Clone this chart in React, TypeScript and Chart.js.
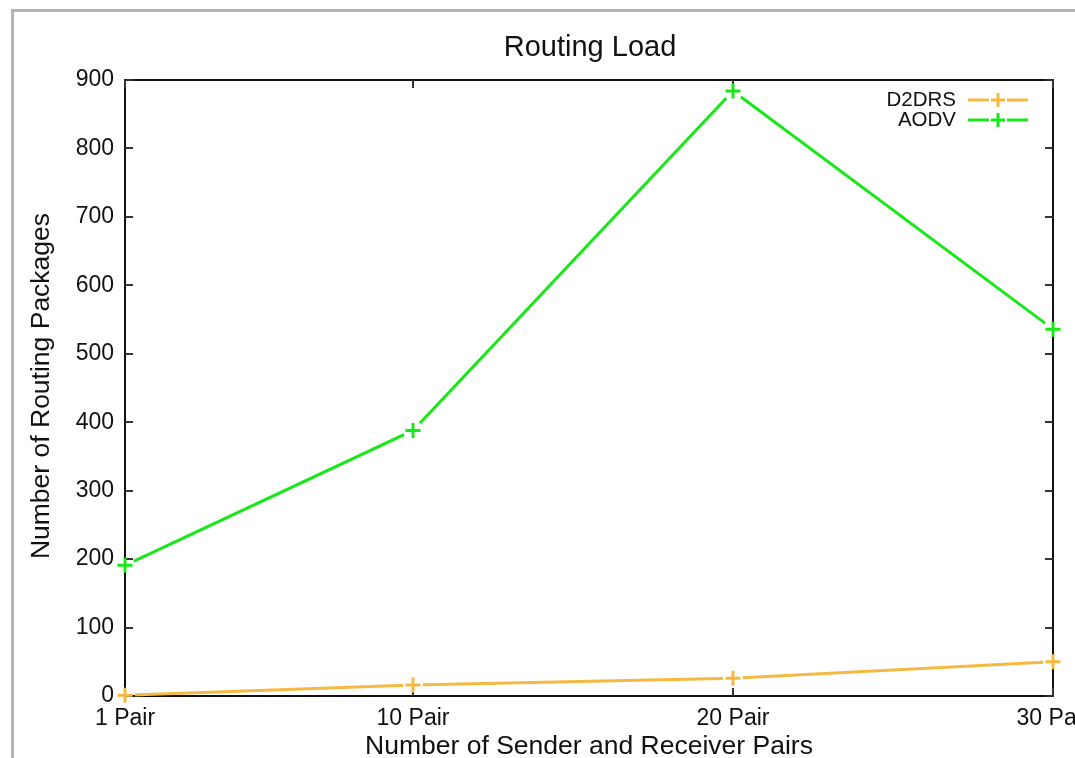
import React, { useEffect, useRef } from 'react';
import { Chart, registerables } from 'chart.js';

Chart.register(...registerables);

// ---- data ----
const pairCounts = [1, 10, 20, 30];
const pairLabels = ['1 Pair', '10 Pair', '20 Pair', '30 Pair'];
const d2drsValues = [1, 16, 26, 50];
const aodvValues = [191, 388, 884, 536];
const seriesNames = ['D2DRS', 'AODV'];
const seriesColors = ['#f5b942', '#18e818'];
const titleText = 'Routing Load';
const xTitle = 'Number of Sender and Receiver Pairs';
const yTitle = 'Number of Routing Packages';

const CW = 1140;
const CH = 790;
const FONT = '"Liberation Sans", Arial, Helvetica, sans-serif';

function drawPlus(ctx: CanvasRenderingContext2D, x: number, y: number, r: number) {
  ctx.beginPath();
  ctx.moveTo(x - r, y);
  ctx.lineTo(x + r, y);
  ctx.moveTo(x, y - r);
  ctx.lineTo(x, y + r);
  ctx.stroke();
}

const GAP = 10;

const gapPlugin = {
  id: 'pointgap',
  beforeDatasetDraw(chart: any, args: any) {
    const { ctx } = chart;
    const meta = args.meta;
    ctx.save();
    ctx.beginPath();
    ctx.rect(-100, -100, chart.width + 200, chart.height + 200);
    meta.data.forEach((p: any) => {
      ctx.moveTo(p.x + GAP, p.y);
      ctx.arc(p.x, p.y, GAP, 0, Math.PI * 2, true);
    });
    ctx.clip('evenodd');
  },
  afterDatasetDraw(chart: any, args: any) {
    const { ctx } = chart;
    ctx.restore();
    args.meta.data.forEach((p: any) => p.draw(ctx));
  },
};

const framePlugin = {
  id: 'gnuframe',
  beforeDatasetsDraw(chart: any) {
    const { ctx, chartArea: a, scales } = chart;
    ctx.save();
    ctx.strokeStyle = '#111';
    ctx.lineWidth = 2;
    ctx.strokeRect(a.left, a.top, a.right - a.left, a.bottom - a.top);
    ctx.strokeStyle = '#333';
    ctx.lineWidth = 2;
    const tl = 8;
    ctx.beginPath();
    scales.y.ticks.forEach((t: any) => {
      const y = Math.round(scales.y.getPixelForValue(t.value));
      ctx.moveTo(a.left, y);
      ctx.lineTo(a.left + tl, y);
      ctx.moveTo(a.right, y);
      ctx.lineTo(a.right - tl, y);
    });
    scales.x.ticks.forEach((t: any) => {
      const x = Math.round(scales.x.getPixelForValue(t.value));
      ctx.moveTo(x, a.bottom);
      ctx.lineTo(x, a.bottom - tl);
      ctx.moveTo(x, a.top);
      ctx.lineTo(x, a.top + tl);
    });
    ctx.stroke();
    ctx.restore();
  },
  afterDraw(chart: any) {
    const { ctx, chartArea: a } = chart;
    ctx.save();
    ctx.fillStyle = '#111';
    // title
    ctx.font = `29px ${FONT}`;
    ctx.textAlign = 'center';
    ctx.textBaseline = 'middle';
    ctx.fillText(titleText, (a.left + a.right) / 2 + 1, 48);
    // x title
    ctx.font = `26.5px ${FONT}`;
    ctx.fillText(xTitle, (a.left + a.right) / 2, 747);
    // y title
    ctx.save();
    ctx.translate(42, (a.top + a.bottom) / 2 - 2);
    ctx.rotate(-Math.PI / 2);
    ctx.fillText(yTitle, 0, 0);
    ctx.restore();
    // legend
    ctx.font = `20.5px ${FONT}`;
    ctx.textAlign = 'right';
    const rows = [100, 120];
    seriesNames.forEach((name, i) => {
      const y = rows[i];
      ctx.fillStyle = '#111';
      ctx.fillText(name, 956, y);
      ctx.strokeStyle = seriesColors[i];
      ctx.lineWidth = 3;
      ctx.beginPath();
      ctx.moveTo(968, y);
      ctx.lineTo(989, y);
      ctx.moveTo(1007, y);
      ctx.lineTo(1028, y);
      ctx.stroke();
      drawPlus(ctx, 998, y, 7);
    });
    ctx.restore();
  },
};

export default function App() {
  const ref = useRef<HTMLCanvasElement | null>(null);

  useEffect(() => {
    document.body.style.margin = '0';
    const canvas = ref.current;
    if (!canvas) return;
    const mk = (vals: number[]) => pairCounts.map((x, i) => ({ x, y: vals[i] }));
    const ds = (i: number, vals: number[]) => ({
      label: seriesNames[i],
      data: mk(vals),
      borderColor: seriesColors[i],
      backgroundColor: seriesColors[i],
      borderWidth: 3,
      pointStyle: 'cross',
      pointRadius: 7.5,
      pointBorderWidth: 3,
      pointHoverRadius: 7.5,
      tension: 0,
      clip: false as any,
    });
    const chart = new Chart(canvas, {
      type: 'line',
      data: {
        datasets: [ds(0, d2drsValues), ds(1, aodvValues)] as any,
      },
      options: {
        responsive: false,
        animation: false,
        devicePixelRatio: 1,
        layout: { padding: { top: 80, left: 0, right: CW - 1053, bottom: 0 } },
        plugins: {
          legend: { display: false },
          title: { display: false },
          tooltip: { enabled: false },
        },
        scales: {
          x: {
            type: 'linear',
            min: 1,
            max: 30,
            grid: { display: false, drawTicks: false },
            border: { display: false },
            afterBuildTicks: (s: any) => {
              s.ticks = pairCounts.map((v) => ({ value: v }));
            },
            afterFit: (s: any) => {
              s.height = CH - 696;
              s.paddingLeft = 0;
              s.paddingRight = 0;
            },
            ticks: {
              autoSkip: false,
              maxRotation: 0,
              padding: 9,
              color: '#111',
              font: { family: FONT, size: 23 },
              callback: (v: any) => pairLabels[pairCounts.indexOf(Number(v))] ?? '',
            },
          },
          y: {
            type: 'linear',
            min: 0,
            max: 900,
            grid: { display: false, drawTicks: false },
            border: { display: false },
            afterFit: (s: any) => {
              s.width = 125;
              s.paddingTop = 0;
              s.paddingBottom = 0;
            },
            ticks: {
              stepSize: 100,
              padding: 11,
              color: '#111',
              font: { family: FONT, size: 23 },
            },
          },
        },
      },
      plugins: [framePlugin, gapPlugin],
    });
    return () => chart.destroy();
  }, []);

  return (
    <div style={{ position: 'fixed', left: 0, top: 0, width: 1075, height: 758, overflow: 'hidden', background: '#fff' }}>
      <div
        style={{
          position: 'absolute',
          left: 11,
          top: 9,
          width: 2000,
          height: 2000,
          borderLeft: '3px solid #b4b4b4',
          borderTop: '3px solid #b4b4b4',
        }}
      />
      <canvas ref={ref} width={CW} height={CH} style={{ position: 'absolute', left: 0, top: 0, width: CW, height: CH }} />
    </div>
  );
}
